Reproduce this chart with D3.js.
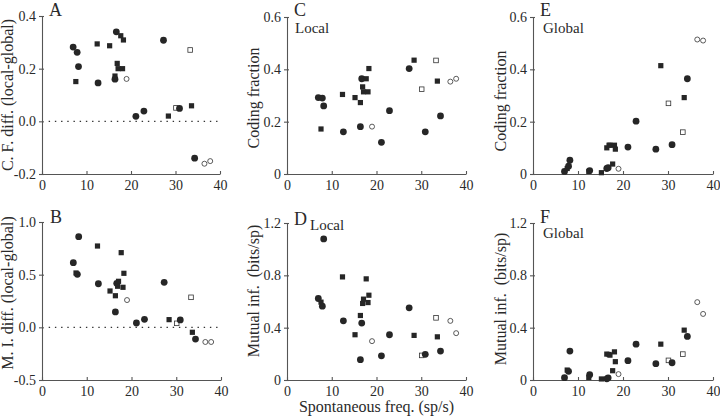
<!DOCTYPE html>
<html><head><meta charset="utf-8">
<script src="https://cdn.jsdelivr.net/npm/d3@7"></script>
<style>
html,body{margin:0;padding:0;background:#fff;}
svg{display:block;font-family:"Liberation Serif","Times New Roman",serif;}
</style></head>
<body><svg id="c" width="720" height="419"></svg>
<script>
// spontaneous frequency (sp/s) of each neuron
const spontFreq = [7.0, 7.6, 7.9, 8.2, 12.6, 12.4, 15.2, 16.4, 16.4, 16.7, 16.9, 17.1, 17.7, 18.1, 18.3, 19.0, 21.1, 22.9, 27.3, 28.4, 30.1, 30.9, 33.3, 33.6, 34.3, 36.5, 37.8];
// marker type of each neuron
const markerType = ["circle","square","circle","circle","circle","square","square","square","circle","circle","square","square","square","square","square","openCircle","circle","circle","circle","square","openSquare","circle","openSquare","square","circle","openCircle","openCircle"];
// A: coding fraction difference (local-global)
const cfDiff = [0.282, 0.151, 0.262, 0.208, 0.146, 0.294, 0.287, 0.172, 0.160, 0.340, 0.220, 0.200, 0.325, 0.200, 0.309, 0.161, 0.019, 0.039, 0.308, 0.020, 0.051, 0.049, 0.271, 0.059, -0.140, -0.161, -0.151];
// B: mutual information difference (local-global)
const miDiff = [0.614, 0.516, 0.503, 0.861, 0.414, 0.772, 0.345, 0.300, 0.146, 0.418, 0.390, 0.437, 0.709, 0.380, 0.513, 0.259, 0.041, 0.076, 0.427, 0.073, 0.038, 0.070, 0.285, -0.047, -0.111, -0.139, -0.139];
// C: local coding fraction
const cfLocal = [0.292, 0.172, 0.290, 0.260, 0.161, 0.304, 0.292, 0.273, 0.181, 0.364, 0.333, 0.314, 0.364, 0.314, 0.403, 0.181, 0.121, 0.242, 0.403, 0.435, 0.324, 0.161, 0.434, 0.355, 0.222, 0.353, 0.364];
// D: local mutual information (bits/sp)
const miLocal = [0.623, 0.595, 0.564, 1.078, 0.452, 0.788, 0.346, 0.493, 0.155, 0.435, 0.585, 0.618, 0.773, 0.592, 0.648, 0.297, 0.185, 0.346, 0.552, 0.341, 0.188, 0.196, 0.475, 0.330, 0.221, 0.452, 0.358];
// E: global coding fraction
const cfGlobal = [0.010, 0.021, 0.030, 0.053, 0.013, 0.010, 0.005, 0.100, 0.021, 0.024, 0.110, 0.110, 0.038, 0.110, 0.095, 0.020, 0.103, 0.202, 0.095, 0.414, 0.270, 0.112, 0.160, 0.292, 0.364, 0.514, 0.510];
// F: global mutual information (bits/sp)
const miGlobal = [0.018, 0.076, 0.066, 0.221, 0.041, 0.020, 0.008, 0.198, 0.009, 0.017, 0.195, 0.190, 0.071, 0.215, 0.140, 0.045, 0.148, 0.274, 0.125, 0.274, 0.150, 0.132, 0.198, 0.381, 0.333, 0.595, 0.505];

// tick values and labels
const xTicks = [0, 10, 20, 30, 40];
const xTickLabels = ["0", "10", "20", "30", "40"];
const cfDiffTicks = [-0.2, 0, 0.2, 0.4];
const cfDiffTickLabels = ["-0.2", "0.0", "0.2", "0.4"];
const miDiffTicks = [-0.5, 0, 0.5, 1.0];
const miDiffTickLabels = ["-0.5", "0.0", "0.5", "1.0"];
const cfTicks = [0, 0.2, 0.4, 0.6];
const cfTickLabels = ["0", "0.2", "0.4", "0.6"];
const miTicks = [0, 0.4, 0.8, 1.2];
const miTickLabels = ["0", "0.4", "0.8", "1.2"];

const panels = [
  {letter:"A", vals:cfDiff, dom:[-0.2,0.4], ticks:cfDiffTicks, labels:cfDiffTickLabels, ylabel:"C. F. diff. (local-global)",
   x0:42, x1:220, yT:16, yB:174, zero:true, lx:49, ly:16, ylx:13, yly:95},
  {letter:"B", vals:miDiff, dom:[-0.5,1.0], ticks:miDiffTicks, labels:miDiffTickLabels, ylabel:"M. I. diff. (local-global)",
   x0:42, x1:221, yT:222, yB:380, zero:true, lx:50, ly:223, ylx:13, yly:293},
  {letter:"C", vals:cfLocal, dom:[0,0.6], ticks:cfTicks, labels:cfTickLabels, ylabel:"Coding fraction",
   x0:287, x1:466, yT:17, yB:174, lx:294, ly:16, ylx:259, yly:98, sub:"Local", sx:295, sy:33},
  {letter:"D", vals:miLocal, dom:[0,1.2], ticks:miTicks, labels:miTickLabels, ylabel:"Mutual inf.\u00a0\u00a0(bits/sp)",
   x0:287, x1:466, yT:223, yB:380, lx:294, ly:225, ylx:259, yly:291, sub:"Local", sx:310, sy:230, xlabel:"Spontaneous freq. (sp/s)"},
  {letter:"E", vals:cfGlobal, dom:[0,0.6], ticks:cfTicks, labels:cfTickLabels, ylabel:"Coding fraction",
   x0:533, x1:713, yT:17, yB:174, lx:540, ly:16, ylx:506, yly:101, sub:"Global", sx:543, sy:33},
  {letter:"F", vals:miGlobal, dom:[0,1.2], ticks:miTicks, labels:miTickLabels, ylabel:"Mutual inf.\u00a0\u00a0(bits/sp)",
   x0:533, x1:713, yT:223, yB:380, lx:540, ly:223, ylx:506, yly:299, sub:"Global", sx:543, sy:238}
];

const svg = d3.select("#c");
const axisColor = "#555";
const textColor = "#2a2a2a";
const markColor = "#262626";
const serif = '"Liberation Serif","Times New Roman",serif';

panels.forEach(p => {
  const x = d3.scaleLinear().domain([0, 40]).range([p.x0, p.x1]);
  const y = d3.scaleLinear().domain(p.dom).range([p.yB, p.yT]);
  const g = svg.append("g");

  // x axis
  const xa = g.append("g").attr("transform", `translate(0,${p.yB})`)
    .call(d3.axisBottom(x).tickValues(xTicks).tickFormat((d,i)=>xTickLabels[i]).tickSize(-3).tickSizeOuter(0).tickPadding(6));
  // y axis
  const ya = g.append("g").attr("transform", `translate(${p.x0},0)`)
    .call(d3.axisLeft(y).tickValues(p.ticks).tickFormat((d,i)=>p.labels[i]).tickSize(3).tickSizeOuter(0).tickPadding(3));
  ya.selectAll(".tick line").attr("x1", 2);
  [xa, ya].forEach(a => {
    a.attr("font-family", serif).attr("font-size", 14);
    a.select(".domain").attr("stroke", axisColor).attr("stroke-width", 1.1);
    a.selectAll(".tick line").attr("stroke", axisColor).attr("stroke-width", 1.1);
    a.selectAll(".tick text").attr("fill", textColor);
  });

  if (p.zero) {
    g.append("line").attr("x1", x(1.5)).attr("x2", x(40)).attr("y1", y(0)).attr("y2", y(0))
      .attr("stroke", "#333").attr("stroke-width", 1.4).attr("stroke-dasharray", "1.4,4.8");
  }

  // markers
  const pts = spontFreq.map((f, i) => ({f, v: p.vals[i], t: markerType[i]}));
  pts.forEach(d => {
    const cx = x(d.f), cy = y(d.v);
    if (d.t === "circle") {
      g.append("circle").attr("cx", cx).attr("cy", cy).attr("r", 3.4).attr("fill", markColor);
    } else if (d.t === "square") {
      g.append("rect").attr("x", cx - 2.6).attr("y", cy - 2.6).attr("width", 5.2).attr("height", 5.2).attr("fill", markColor);
    } else if (d.t === "openCircle") {
      g.append("circle").attr("cx", cx).attr("cy", cy).attr("r", 2.5).attr("fill", "#fff").attr("stroke", "#333").attr("stroke-width", 0.8);
    } else {
      g.append("rect").attr("x", cx - 2.3).attr("y", cy - 2.3).attr("width", 4.6).attr("height", 4.6).attr("fill", "#fff").attr("stroke", "#333").attr("stroke-width", 0.8);
    }
  });

  // panel letter
  g.append("text").attr("x", p.lx).attr("y", p.ly).text(p.letter)
    .attr("fill", textColor).style("font-size", "18px");
  if (p.sub) {
    g.append("text").attr("x", p.sx).attr("y", p.sy).text(p.sub)
      .attr("fill", textColor).style("font-size", "15px");
  }
  // y label
  g.append("text").attr("transform", `translate(${p.ylx},${p.yly}) rotate(-90)`)
    .attr("text-anchor", "middle").text(p.ylabel).attr("fill", textColor).style("font-size", "16px");
  if (p.xlabel) {
    g.append("text").attr("x", (p.x0 + p.x1) / 2).attr("y", 412).attr("text-anchor", "middle")
      .text(p.xlabel).attr("fill", textColor).style("font-size", "16px");
  }
});
</script>
</body></html>
